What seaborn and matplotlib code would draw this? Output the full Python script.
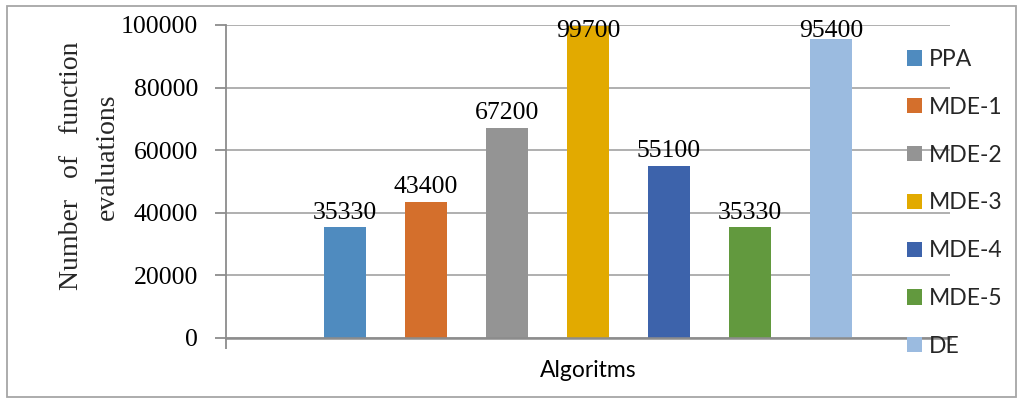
import matplotlib
matplotlib.use("Agg")
import matplotlib.pyplot as plt
from matplotlib.patches import Rectangle
import pandas as pd
import seaborn as sns

# Function evaluations needed by each algorithm
algorithms = ["PPA", "MDE-1", "MDE-2", "MDE-3", "MDE-4", "MDE-5", "DE"]
evaluations = [35330, 43400, 67200, 99700, 55100, 35330, 95400]
bar_colors = ["#4f8bbf", "#d46f2c", "#949494", "#e2aa00", "#3d63ab", "#62993e", "#9bbbe0"]
group_label = "Algoritms"
y_ticks = [0, 20000, 40000, 60000, 80000, 100000]

sns.set_theme(style="white")
SERIF = ["Liberation Serif", "DejaVu Serif"]
SANS = ["Lato", "DejaVu Sans"]

W, H = 1018, 398
fig = plt.figure(figsize=(W / 100, H / 100), dpi=100)
fig.patch.set_facecolor("white")

# plot area in pixel coordinates
left, right, top, bottom = 226, 950, 25, 338
ax = fig.add_axes([left / W, (H - bottom) / H, (right - left) / W, (bottom - top) / H])

df = pd.DataFrame({
    "group": [group_label] * len(algorithms),
    "algorithm": algorithms,
    "evaluations": evaluations,
})

sns.barplot(data=df, x="group", y="evaluations", hue="algorithm",
            hue_order=algorithms, palette=bar_colors, saturation=1,
            width=0.783, gap=0.49, errorbar=None, linewidth=0, ax=ax)

ax.set_xlim(-0.5, 0.5)
ax.set_ylim(0, 100000)
ax.set_yticks(y_ticks)
ax.set_yticklabels([str(t) for t in y_ticks], fontfamily=SERIF, fontsize=18.5)
ax.set_xlabel("")
ax.set_ylabel("")

# gridlines and axis styling
ax.grid(axis="y", color="#a9a9a9", linewidth=1.3)
ax.set_axisbelow(True)
for side in ["top", "right"]:
    ax.spines[side].set_visible(False)
ax.spines["left"].set_color("#8c8c8c")
ax.spines["left"].set_linewidth(1.3)
ax.spines["bottom"].set_color("#8c8c8c")
ax.spines["bottom"].set_linewidth(1.8)
ax.tick_params(axis="y", direction="out", length=8, width=1.3, color="#8c8c8c",
               pad=12, labelcolor="black", left=True)
ax.tick_params(axis="x", length=0, pad=16, labelcolor="black")
for lbl in ax.get_xticklabels():
    lbl.set_fontfamily(SANS)
    lbl.set_fontsize(16.5)
# boundary tick at the left edge of the category
ax.set_xticks([-0.5], minor=True)
ax.tick_params(axis="x", which="minor", direction="out", length=8, width=1.3,
               color="#8c8c8c", bottom=True)

# value labels above each bar
for value, cont in zip(evaluations, ax.containers):
    bar = cont.patches[0]
    xc = bar.get_x() + bar.get_width() / 2
    ypos = min(value + 2800, 96200)
    ax.text(xc, ypos, f"{value}", ha="center", va="baseline",
            fontfamily=SERIF, fontsize=18.5, color="black", clip_on=False)

# legend on the right
handles, labels = ax.get_legend_handles_labels()
ax.legend(handles, labels, loc="upper left",
          bbox_to_anchor=(907 / W, 1 - 49 / H), bbox_transform=fig.transFigure,
          frameon=False, borderpad=0, borderaxespad=0,
          handlelength=0.65, handleheight=0.65, handletextpad=0.3,
          labelspacing=1.17, prop={"family": SANS, "size": 16.5})

# two-line y axis title
fig.text(72 / W, 1 - 166 / H, "Number   of   function", rotation=90,
         ha="center", va="center", fontfamily=SERIF, fontsize=20)
fig.text(107 / W, 1 - 157 / H, "evaluations", rotation=90,
         ha="center", va="center", fontfamily=SERIF, fontsize=20)

# outer chart border
fig.add_artist(Rectangle((7 / W, 1.5 / H), (1016 - 7) / W, (392 - 1.5) / H,
                         transform=fig.transFigure, fill=False,
                         edgecolor="#a6a6a6", linewidth=1.3))

fig.savefig("out.png", dpi=100)
